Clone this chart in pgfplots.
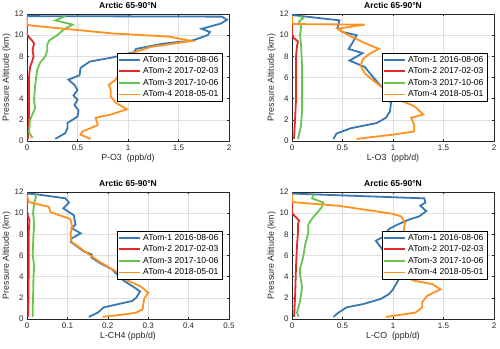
\documentclass[border=0pt]{standalone}
\usepackage{fontspec}
\setmainfont{Liberation Sans}
\usepackage{pgfplots}
\pgfplotsset{compat=1.18}

\definecolor{c1}{RGB}{55,120,180}
\definecolor{c2}{RGB}{232,40,40}
\definecolor{c3}{RGB}{105,195,80}
\definecolor{c4}{RGB}{255,145,30}
\definecolor{axgray}{RGB}{38,38,38}

\pgfplotsset{
  matlab/.style={
    scale only axis, anchor=south west,
    width=202pt, height=127pt,
    ymin=0, ymax=12, ytick={0,2,...,12},
    grid=major, grid style={gray!25, line width=0.4pt},
    axis line style={axgray, line width=0.4pt},
    tick style={axgray, line width=0.4pt},
    tick align=inside, major tick length=2pt,
    tick label style={font=\fontsize{8}{9}\selectfont, text=axgray},
    /pgf/number format/assume math mode=true,
    /pgf/number format/fixed,
    title style={font=\bfseries\fontsize{8.5}{9}\selectfont, yshift=-4.5pt},
    title={Arctic 65-90\textdegree N},
    label style={font=\fontsize{8.8}{10}\selectfont, text=axgray},
    ylabel={Pressure Altitude (km)},
    ylabel style={yshift=-3pt},
    xlabel style={yshift=3pt},
    every axis plot/.append style={line width=1.8pt, no markers},
    legend style={at={(0.965,0.695)}, anchor=north east,
      font=\fontsize{8.6}{10}\selectfont, draw=black, line width=0.4pt,
      inner sep=1.2pt, row sep=0pt},
    legend cell align=left,
    legend image code/.code={\draw[#1, line width=1.8pt] (0pt,0pt) -- (21pt,0pt);},
  }
}

\begin{document}
\begin{tikzpicture}
\path[use as bounding box] (0,0) rectangle (500pt,348pt);

% P-O3
\begin{axis}[matlab, at={(27pt,207pt)}, xmin=0, xmax=2, xtick={0,0.5,...,2},
  xlabel={P-O3\ \ (ppb/d)}]
\addplot[c1] coordinates {(0.28,0.2)(0.38,0.75)(0.40,1.2)(0.40,1.7)(0.50,2.3)(0.51,2.9)(0.47,3.4)(0.50,3.9)(0.46,4.3)(0.50,4.8)(0.47,5.3)(0.41,5.8)(0.52,6.2)(0.53,6.9)(0.62,7.5)(0.85,7.9)(1.06,8.4)(1.08,8.7)(1.35,9.2)(1.64,9.5)(1.79,10.0)(1.81,10.3)(1.73,10.6)(1.92,11.1)(1.98,11.45)(1.93,11.75)(0,11.8)};
\addlegendentry{ATom-1 2016-08-06}
\addplot[c2] coordinates {(0.01,0.2)(0.02,1.5)(0.02,3)(0.02,4.5)(0.02,6)(0.03,7)(0.05,7.5)(0.065,8.0)(0.055,8.6)(0.07,9.2)(0.05,9.5)(0.02,9.8)(0,10)(0,11.8)};
\addlegendentry{ATom-2 2017-02-03}
\addplot[c3] coordinates {(0.055,0.3)(0.02,0.8)(0.03,2.0)(0.08,3.1)(0.07,3.9)(0.08,5.2)(0.10,6.7)(0.13,7.4)(0.18,8.0)(0.2,8.5)(0.2,9.1)(0.22,9.5)(0.3,10.0)(0.36,10.5)(0.45,11.0)(0.28,11.4)(0.38,11.8)};
\addlegendentry{ATom-3 2017-10-06}
\addplot[c4] coordinates {(0.63,0.2)(0.53,0.6)(0.55,0.9)(0.70,1.5)(0.68,2.2)(0.83,2.5)(0.99,3.0)(0.88,3.6)(0.83,4.2)(0.83,4.8)(0.81,5.3)(0.88,5.8)(0.93,6.6)(0.98,7.5)(1.0,8.2)(1.23,8.9)(1.63,9.45)(1.41,9.86)(0.84,10.17)(0.05,10.9)(0,11.0)(0,11.8)};
\addlegendentry{ATom-4 2018-05-01}
\end{axis}

% L-O3
\begin{axis}[matlab, at={(292pt,207pt)}, xmin=0, xmax=2, xtick={0,0.5,...,2},
  xlabel={L-O3\ \ (ppb/d)}]
\addplot[c1] coordinates {(0.41,0.2)(0.44,0.7)(0.58,1.2)(0.84,1.7)(0.93,2.2)(0.97,2.8)(0.98,3.6)(0.95,4.1)(0.92,4.8)(0.86,5.4)(0.78,6.3)(0.72,7.0)(0.57,7.6)(0.70,8.3)(0.56,8.7)(0.60,9.3)(0.64,10.0)(0.50,10.3)(0.45,10.7)(0.47,11.4)(0.05,11.85)(0,11.9)};
\addlegendentry{ATom-1 2016-08-06}
\addplot[c2] coordinates {(0.02,0.2)(0.03,2)(0.04,4)(0.04,6)(0.04,8)(0.05,9.0)(0.06,9.4)(0.02,9.7)(0,10.0)(0,11.8)};
\addlegendentry{ATom-2 2017-02-03}
\addplot[c3] coordinates {(0.06,0.2)(0.09,1.5)(0.1,3)(0.1,5)(0.1,7)(0.09,9)(0.08,10)(0.09,10.8)(0.07,11.3)(0.11,11.6)(0.08,11.8)};
\addlegendentry{ATom-3 2017-10-06}
\addplot[c4] coordinates {(0.64,0.2)(1.0,0.6)(1.21,0.9)(1.21,1.5)(1.18,2.2)(1.30,2.5)(1.21,3.3)(1.08,3.8)(1.0,4.5)(0.9,5.0)(0.82,5.6)(0.72,6.4)(0.68,7.1)(0.70,7.7)(0.76,8.2)(0.86,8.7)(0.71,9.3)(0.58,9.9)(0.5,10.3)(0.45,10.6)(0.72,11.0)(0,11.05)(0,11.8)};
\addlegendentry{ATom-4 2018-05-01}
\end{axis}

% L-CH4
\begin{axis}[matlab, at={(27pt,29pt)}, xmin=0, xmax=0.5, xtick={0,0.1,...,0.5},
  xlabel={L-CH4 (ppb/d)}]
\addplot[c1] coordinates {(0.153,0.2)(0.175,0.6)(0.19,1.1)(0.26,1.7)(0.27,2.0)(0.28,2.6)(0.265,3.0)(0.24,3.6)(0.21,4.7)(0.18,5.3)(0.16,5.8)(0.16,6.1)(0.14,6.4)(0.108,7.3)(0.11,7.6)(0.133,8.1)(0.11,8.6)(0.12,8.9)(0.116,9.8)(0.09,10.45)(0.104,11.0)(0.095,11.4)(0.02,11.8)(0,11.85)};
\addlegendentry{ATom-1 2016-08-06}
\addplot[c2] coordinates {(0.003,0.2)(0.004,4)(0.004,8)(0.006,9.3)(0.003,9.7)(0,10)(0,11.8)};
\addlegendentry{ATom-2 2017-02-03}
\addplot[c3] coordinates {(0.014,0.2)(0.014,1)(0.015,2)(0.016,4)(0.018,5)(0.014,6)(0.016,8)(0.018,9)(0.015,10)(0.018,11)(0.022,11.5)(0.02,11.8)};
\addlegendentry{ATom-3 2017-10-06}
\addplot[c4] coordinates {(0.187,0.2)(0.245,0.45)(0.27,0.6)(0.286,0.9)(0.29,1.9)(0.30,2.5)(0.28,3.1)(0.245,3.7)(0.22,4.5)(0.18,5.4)(0.15,6.2)(0.125,6.9)(0.11,7.3)(0.108,8.1)(0.112,8.7)(0.108,9.35)(0.104,9.5)(0.058,10.1)(0.054,10.6)(0.037,10.75)(0.004,11.05)(0,11.7)};
\addlegendentry{ATom-4 2018-05-01}
\end{axis}

% L-CO
\begin{axis}[matlab, at={(292pt,29pt)}, xmin=0, xmax=2, xtick={0,0.5,...,2},
  xlabel={L-CO\ \ (ppb/d)}]
\addplot[c1] coordinates {(0.41,0.2)(0.46,0.6)(0.54,1.1)(0.7,1.4)(0.88,1.9)(0.96,2.35)(1.0,2.8)(1.03,3.3)(1.06,3.8)(1.0,4.5)(0.95,5.5)(0.9,6.5)(0.83,7.4)(0.91,7.8)(0.96,8.5)(1.04,8.9)(1.16,9.4)(1.26,9.7)(1.33,10.2)(1.27,10.7)(1.32,11.0)(1.31,11.4)(0,11.85)};
\addlegendentry{ATom-1 2016-08-06}
\addplot[c2] coordinates {(0.02,0.2)(0.03,2)(0.04,5)(0.05,7)(0.06,8.3)(0.06,9)(0.07,9.3)(0.04,9.6)(0.02,9.8)(0,10)(0,11.8)};
\addlegendentry{ATom-2 2017-02-03}
\addplot[c3] coordinates {(0.065,0.2)(0.05,0.6)(0.08,1.7)(0.1,3)(0.08,4.2)(0.08,4.8)(0.11,5.8)(0.13,7)(0.16,8.1)(0.16,8.9)(0.2,9.5)(0.29,10.5)(0.31,11.0)(0.2,11.4)(0.21,11.8)};
\addlegendentry{ATom-3 2017-10-06}
\addplot[c4] coordinates {(0.93,0.2)(1.22,0.6)(1.29,1.1)(1.29,1.6)(1.34,2.2)(1.47,2.8)(1.39,3.3)(1.22,3.6)(1.13,3.9)(1.1,5)(1.1,7)(1.11,8.6)(1.12,9.1)(1.08,9.7)(0.99,9.95)(0.46,10.7)(0,11.05)(0,11.8)};
\addlegendentry{ATom-4 2018-05-01}
\end{axis}
\end{tikzpicture}
\end{document}
